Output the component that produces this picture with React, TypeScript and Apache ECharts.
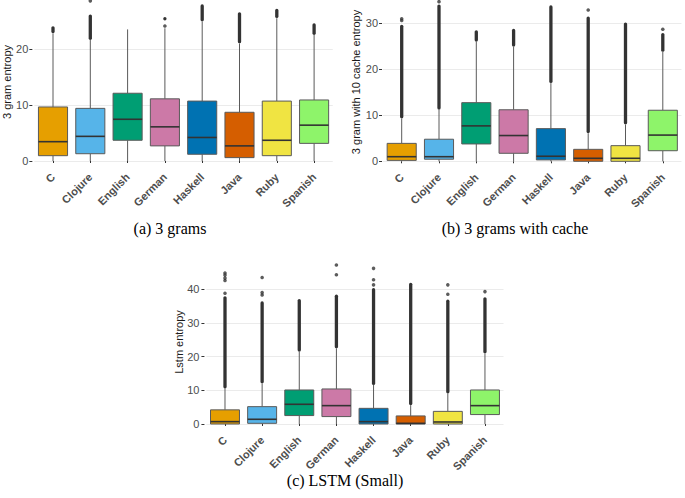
import React, { useEffect, useRef } from "react";
import * as echarts from "echarts";

const categories = ["C", "Clojure", "English", "German", "Haskell", "Java", "Ruby", "Spanish"];
const boxColors = ["#E69F00", "#56B4E9", "#009E73", "#CC79A7", "#0072B2", "#D55E00", "#F0E442", "#8EF46A"];

// [min, Q1, median, Q3, max(whisker)]
const gramStats = [
  [0, 0.95, 3.45, 9.65, 22.8],
  [0, 1.3, 4.4, 9.4, 21.6],
  [0, 3.7, 7.45, 12.1, 23.5],
  [0, 2.7, 6.1, 11.1, 23.7],
  [0, 1.2, 4.2, 10.7, 24.9],
  [0, 0.6, 2.7, 8.7, 21.0],
  [0, 0.95, 3.7, 10.7, 25.5],
  [0, 3.15, 6.4, 10.9, 22.5],
];
const gramOutlierRanges = [[22.9, 24.0], [21.7, 26.1], null, [25.2, 25.6], [25.0, 27.9], [21.1, 26.5], [25.6, 27.1], [22.6, 24.5]];
const gramOutlierPoints = [[], [28.6], [], [24.1], [], [], [], []];

const cacheStats = [
  [0, 0.2, 1.0, 3.9, 9.3],
  [0, 0.45, 1.0, 4.8, 11.2],
  [0, 3.77, 7.7, 12.75, 26.0],
  [0, 1.74, 5.6, 11.2, 24.9],
  [0, 0.3, 1.1, 7.1, 17.0],
  [0, 0, 0.65, 2.6, 6.1],
  [0, 0, 0.65, 3.4, 8.0],
  [0, 2.3, 5.7, 11.1, 23.8],
];
const cacheOutlierRanges = [[9.4, 29.6], [11.3, 34.0], [26.1, 28.4], [25.0, 28.7], [17.1, 33.8], [6.2, 31.4], [8.1, 30.1], [23.9, 27.8]];
const cacheOutlierPoints = [[30.6, 31.0], [34.7], [], [], [], [32.9], [], [28.7]];

const lstmStats = [
  [0, 0, 0.7, 4.2, 10.6],
  [0, 0.2, 1.4, 5.15, 12.1],
  [0, 2.5, 5.85, 10.1, 21.5],
  [0, 2.2, 5.45, 10.4, 22.5],
  [0, 0, 0.7, 4.65, 11.6],
  [0, 0, 0.2, 2.4, 5.6],
  [0, 0, 0.6, 3.75, 9.1],
  [0, 2.8, 5.45, 10.1, 21.0],
];
const lstmOutlierRanges = [[10.7, 37.8], [12.2, 36.3], [21.6, 37.0], [22.6, 38.3], [11.7, 40.2], [5.7, 41.8], [9.2, 36.8], [21.1, 37.5]];
const lstmOutlierPoints = [[38.8, 42.6, 43.3, 44.2, 44.8], [38.3, 39.0, 43.5], [], [44.3, 47.2], [41.3, 42.8, 46.2], [], [38.5, 41.3], [39.3]];

const yTicksA = [0, 10, 20];
const yTicksB = [0, 10, 20, 30];
const yTicksC = [0, 10, 20, 30, 40];

const SANS = "Liberation Sans, Arial, sans-serif";
const SERIF = "Liberation Serif, Times New Roman, serif";
const EDGE = "#5a5a5a";
const DARK = "#333333";

function boxRender(params: any, api: any) {
  const i = api.value(0);
  const p = (v: number) => api.coord([i, v]);
  const [cx, yMin] = p(api.value(1));
  const yQ1 = p(api.value(2))[1];
  const yMed = p(api.value(3))[1];
  const yQ3 = p(api.value(4))[1];
  const yMax = p(api.value(5))[1];
  const bw = api.size([1, 0])[0] * 0.78;
  return {
    type: "group",
    children: [
      { type: "line", shape: { x1: cx, y1: yMin, x2: cx, y2: yQ1 }, style: { stroke: EDGE, lineWidth: 1 } },
      { type: "line", shape: { x1: cx, y1: yQ3, x2: cx, y2: yMax }, style: { stroke: EDGE, lineWidth: 1 } },
      {
        type: "rect",
        shape: { x: cx - bw / 2, y: yQ3, width: bw, height: Math.max(yQ1 - yQ3, 0.5) },
        style: { fill: boxColors[i], stroke: EDGE, lineWidth: 1 },
      },
      { type: "line", shape: { x1: cx - bw / 2, y1: yMed, x2: cx + bw / 2, y2: yMed }, style: { stroke: DARK, lineWidth: 1.6 } },
    ],
  };
}

function rangeRender(params: any, api: any) {
  const i = api.value(0);
  const a = api.coord([i, api.value(1)]);
  const b = api.coord([i, api.value(2)]);
  return {
    type: "line",
    shape: { x1: a[0], y1: a[1] - 1.2, x2: b[0], y2: b[1] + 1.2 },
    style: { stroke: DARK, lineWidth: 3.3, lineCap: "round" },
  };
}

function panelSeries(idx: number, stats: number[][], ranges: any[], points: number[][]) {
  const boxData = stats.map((s, i) => [i, ...s]);
  const rangeData: any[] = [];
  ranges.forEach((r, i) => {
    if (r) rangeData.push([i, r[0], r[1]]);
  });
  const pointData: any[] = [];
  points.forEach((arr, i) => arr.forEach((v) => pointData.push([i, v])));
  return [
    {
      type: "custom",
      xAxisIndex: idx,
      yAxisIndex: idx,
      renderItem: rangeRender,
      encode: { x: 0, y: [1, 2] },
      data: rangeData,
      z: 2,
    },
    {
      type: "scatter",
      xAxisIndex: idx,
      yAxisIndex: idx,
      symbolSize: 3.6,
      itemStyle: { color: DARK },
      data: pointData,
      z: 2,
    },
    {
      type: "custom",
      xAxisIndex: idx,
      yAxisIndex: idx,
      renderItem: boxRender,
      encode: { x: 0, y: [1, 2, 3, 4, 5] },
      data: boxData,
      z: 3,
    },
  ];
}

function xAxis(idx: number) {
  return {
    type: "category",
    gridIndex: idx,
    data: categories,
    offset: 8,
    axisLine: { show: false },
    axisTick: { show: true, length: 2, alignWithLabel: true, lineStyle: { color: DARK } },
    axisLabel: {
      interval: 0,
      rotate: 45,
      margin: 6,
      fontSize: 11,
      fontWeight: "bold",
      color: "#4d4d4d",
      fontFamily: SANS,
    },
    splitLine: { show: false },
  };
}

function yAxis(idx: number, max: number, ticks: number[], offset: number, margin: number) {
  return {
    type: "value",
    gridIndex: idx,
    min: 0,
    max,
    interval: 10,
    offset,
    axisLine: { show: false },
    axisTick: { show: true, length: 3, customValues: ticks, lineStyle: { color: DARK } },
    axisLabel: {
      customValues: ticks,
      margin,
      fontSize: 11,
      color: "#4d4d4d",
      fontFamily: SANS,
      formatter: (v: number) => (v % 10 === 0 ? String(v) : ""),
    },
    splitLine: { show: true, lineStyle: { color: "#ebebeb", width: 1 } },
  };
}

function vText(text: string, x: number, y: number) {
  return {
    type: "text",
    x,
    y,
    rotation: Math.PI / 2,
    style: {
      text,
      fill: "#1a1a1a",
      font: `11px ${SANS}`,
      textAlign: "center",
      textVerticalAlign: "middle",
      align: "center",
      verticalAlign: "middle",
    },
  };
}

function caption(text: string, x: number, y: number) {
  return {
    type: "text",
    x,
    y,
    style: {
      text,
      fill: "#000",
      font: `16px ${SERIF}`,
      textAlign: "center",
      textVerticalAlign: "middle",
      align: "center",
      verticalAlign: "middle",
    },
  };
}

export default function App() {
  const ref = useRef<HTMLDivElement>(null);
  useEffect(() => {
    document.body.style.margin = "0";
    if (!ref.current) return;
    const chart = echarts.init(ref.current, undefined, { renderer: "svg" });
    chart.setOption({
      animation: false,
      backgroundColor: "#ffffff",
      grid: [
        { left: 34.35, top: 0, width: 298.4, height: 161 },
        { left: 383.05, top: 0.3, width: 298.4, height: 161 },
        { left: 206.43, top: 260.6, width: 297.1, height: 163.4 },
      ],
      xAxis: [xAxis(0), xAxis(1), xAxis(2)],
      yAxis: [
        yAxis(0, 28.75, yTicksA, 2, 4),
        yAxis(1, 35, yTicksB, 1, 4),
        yAxis(2, 48.5, yTicksC, 2, 5),
      ],
      series: [
        ...panelSeries(0, gramStats, gramOutlierRanges, gramOutlierPoints),
        ...panelSeries(1, cacheStats, cacheOutlierRanges, cacheOutlierPoints),
        ...panelSeries(2, lstmStats, lstmOutlierRanges, lstmOutlierPoints),
      ],
      graphic: [
        vText("3 gram entropy", 7, 82),
        vText("3 gram with 10 cache entropy", 356, 82),
        vText("Lstm entropy", 179, 342),
        caption("(a) 3 grams", 170, 228),
        caption("(b) 3 grams with cache", 515, 228),
        caption("(c) LSTM (Small)", 345, 480),
      ],
    });
    return () => chart.dispose();
  }, []);
  return <div ref={ref} style={{ width: 685, height: 498 }} />;
}
